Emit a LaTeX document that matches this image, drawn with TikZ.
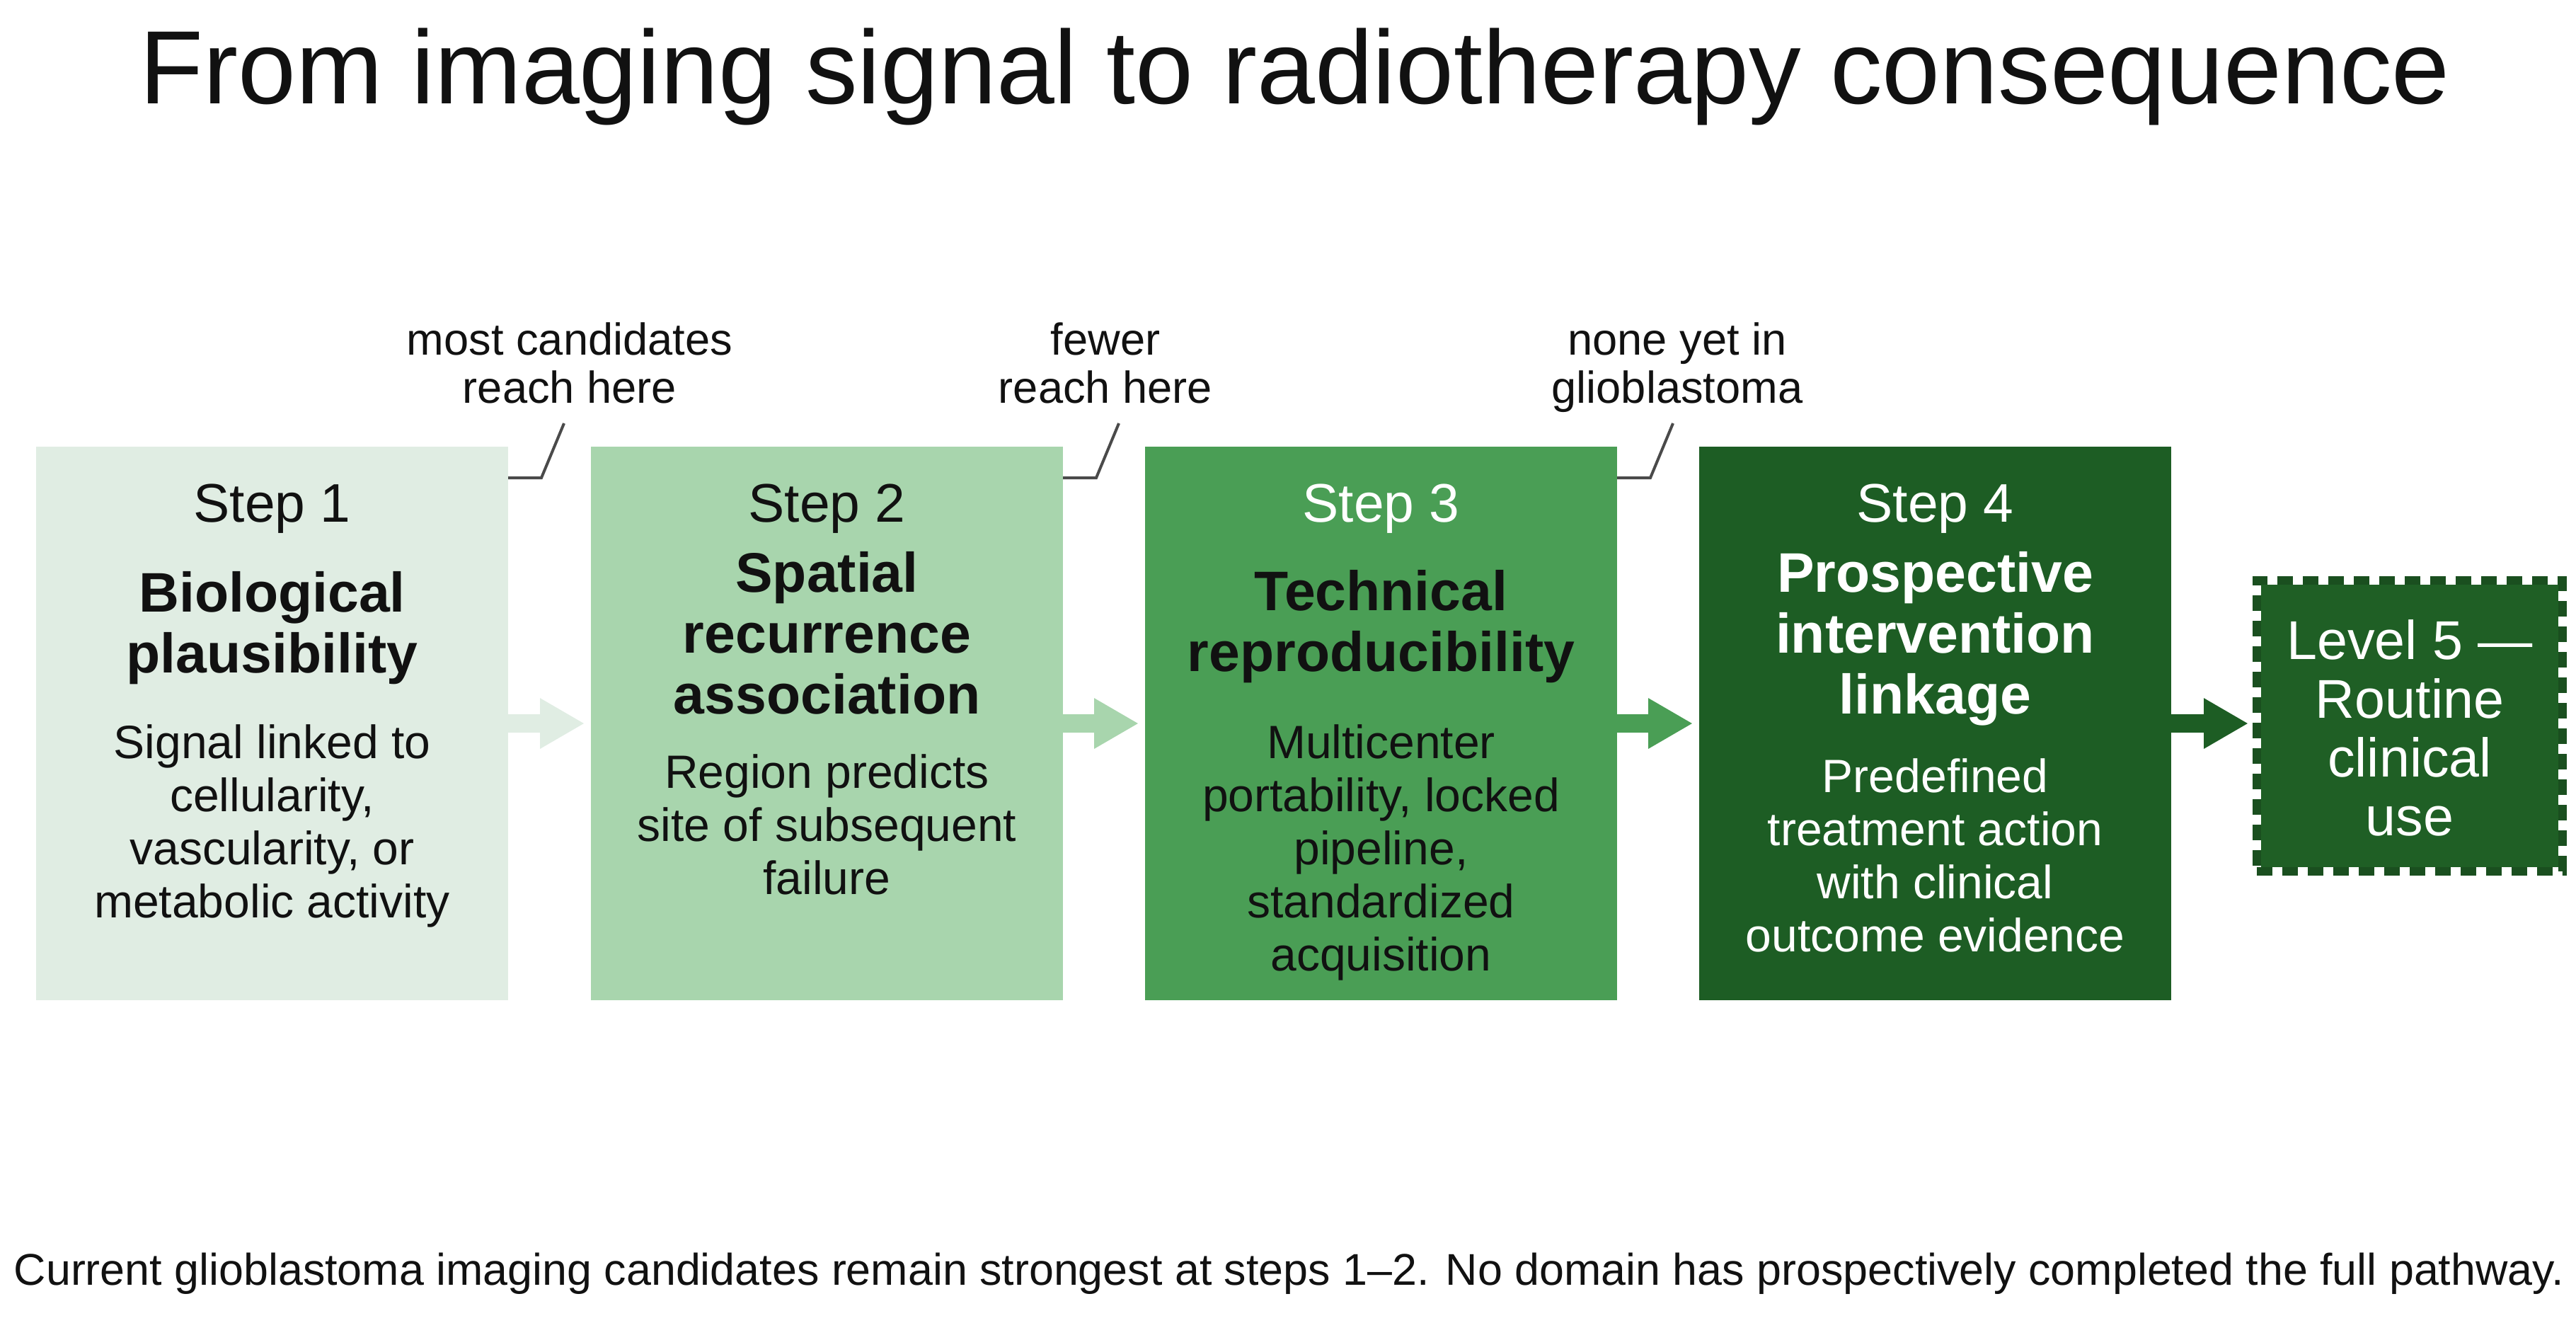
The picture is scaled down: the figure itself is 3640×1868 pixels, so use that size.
\documentclass[tikz,border=0pt]{standalone}
\usepackage{fontspec}
\setmainfont{Liberation Sans}
\usetikzlibrary{arrows.meta}
\definecolor{cA}{HTML}{E0EDE3}
\definecolor{cB}{HTML}{A8D5AD}
\definecolor{cC}{HTML}{4A9E55}
\definecolor{cD}{HTML}{1D5D24}
\definecolor{cE}{HTML}{1F5F25}
\definecolor{cEb}{HTML}{1A4F1F}
\definecolor{ink}{HTML}{111111}
\definecolor{leadc}{HTML}{4A4A4A}
\newcommand\firststrut{\rule{0pt}{0.8em}}
\begin{document}
\begin{tikzpicture}[x=0.25pt,y=-0.25pt,
  stepbox/.style={rectangle, minimum width=166.75pt, minimum height=195.5pt, inner sep=0pt, outer sep=0pt, draw=none},
  steplbl/.style={anchor=base, inner sep=0pt, font=\fontsize{19.2}{23}\selectfont},
  headtxt/.style={anchor=north, inner sep=0pt, align=center, font=\bfseries\fontsize{19.7}{21.5}\selectfont},
  desctxt/.style={anchor=north, inner sep=0pt, align=center, font=\fontsize{16.5}{18.75}\selectfont},
  calltxt/.style={anchor=north, inner sep=0pt, align=center, text=ink, font=\fontsize{15.8}{17}\selectfont},
  flowarrow/.style={line width=6.5pt, -{Triangle[length=15.75pt,width=16.75pt]}, shorten >=2.25pt},
  leader/.style={draw=leadc, line width=1pt},
  l5box/.style={rectangle, minimum width=108pt, minimum height=102.75pt, inner sep=0pt,
    fill=cE, draw=white, line width=3pt,
    postaction={draw=cEb, dash pattern=on 5.5pt off 3.5pt},
    text=white, align=center, font=\fontsize{19.3}{20.75}\selectfont},
]
\useasboundingbox[fill=white] (0,0) rectangle (3640,1868);

% title
\node[anchor=base, inner sep=0pt, text=ink, font=\fontsize{36.8}{44}\selectfont] (title) at (1830,146)
  {From imaging signal to radiotherapy consequence};

% boxes
\node[stepbox, fill=cA] (b1) at (384.5,1022) {};
\node[stepbox, fill=cB] (b2) at (1168.5,1022) {};
\node[stepbox, fill=cC] (b3) at (1951.5,1022) {};
\node[stepbox, fill=cD] (b4) at (2734.5,1022) {};
\node[l5box] (b5) at (3405,1025) {\firststrut Level 5 —\\Routine\\clinical\\use};

% box texts
\node[steplbl, text=ink] (s1) at (384.5,737) {Step 1};
\node[headtxt, text=ink] (h1) at (384.5,801) {\firststrut Biological\\plausibility};
\node[desctxt, text=ink] (d1) at (384.5,1018) {\firststrut Signal linked to\\cellularity,\\vascularity, or\\metabolic activity};

\node[steplbl, text=ink] (s2) at (1168.5,737) {Step 2};
\node[headtxt, text=ink] (h2) at (1168.5,773) {\firststrut Spatial\\recurrence\\association};
\node[desctxt, text=ink] (d2) at (1168.5,1060) {\firststrut Region predicts\\site of subsequent\\failure};

\node[steplbl, text=white] (s3) at (1951.5,737) {Step 3};
\node[headtxt, text=ink] (h3) at (1951.5,799) {\firststrut Technical\\reproducibility};
\node[desctxt, text=ink] (d3) at (1951.5,1018) {\firststrut Multicenter\\portability, locked\\pipeline,\\standardized\\acquisition};

\node[steplbl, text=white] (s4) at (2734.5,737) {Step 4};
\node[headtxt, text=white] (h4) at (2734.5,773) {\firststrut Prospective\\intervention\\linkage};
\node[desctxt, text=white] (d4) at (2734.5,1066) {\firststrut Predefined\\treatment action\\with clinical\\outcome evidence};

% arrows
\draw[flowarrow, cA] (b1.east) -- (b2.west);
\draw[flowarrow, cB] (b2.east) -- (b3.west);
\draw[flowarrow, cC] (b3.east) -- (b4.west);
\draw[flowarrow, cD, shorten >=1.5pt] (b4.east) -- (b4.east -| b5.west);

% callouts
\node[calltxt] (c1) at (805,450) {\firststrut most candidates\\reach here};
\node[calltxt] (c2) at (1562,450) {\firststrut fewer\\reach here};
\node[calltxt] (c3) at (2370,450) {\firststrut none yet in\\glioblastoma};
\draw[leader] ([yshift=-11pt]b1.north east) -- ++(47,0) -- ++(32,-77) coordinate (t1);
\draw[leader] ([yshift=-11pt]b2.north east) -- ++(47,0) -- ++(32,-77) coordinate (t2);
\draw[leader] ([yshift=-11pt]b3.north east) -- ++(47,0) -- ++(32,-77) coordinate (t3);

% footer
\node[anchor=base west, inner sep=0pt, text=ink, font=\fontsize{15.7}{19}\selectfont] (foot) at (19,1815)
  {Current glioblastoma imaging candidates remain strongest at steps 1–2. No domain has prospectively completed the full pathway.};
\end{tikzpicture}
\end{document}
